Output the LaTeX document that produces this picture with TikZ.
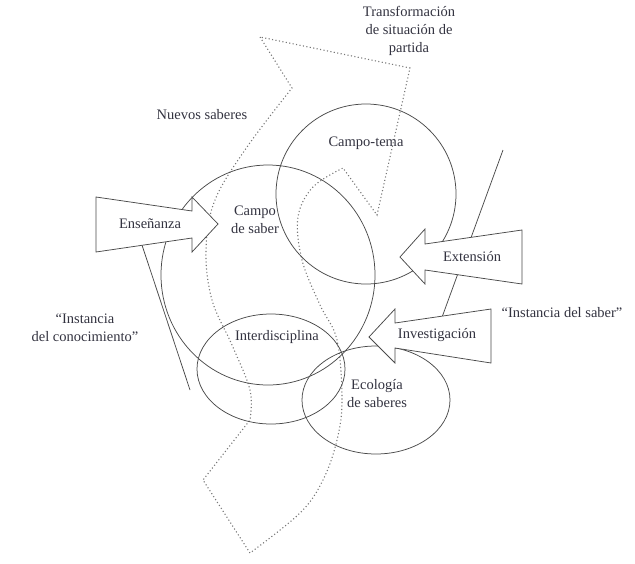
\documentclass[tikz,border=0pt]{standalone}
\usepackage{fontspec}
\setmainfont{Liberation Serif}
\usepackage{tikz}
\usetikzlibrary{calc, positioning}
\definecolor{linegray}{HTML}{4A4A4A}
\definecolor{dotgray}{HTML}{777777}
\definecolor{textgray}{HTML}{333340}
\tikzset{
    auto, node distance = 1.1 cm and 1.1 cm,
}

\begin{document}
\begin{tikzpicture}[x=1pt, y=-1pt,
        lbl/.style={text=textgray, font=\fontsize{14.5}{18}\selectfont, align=center, inner sep=0pt},
        ring/.style={draw=linegray, line width=0.75pt},
        blockarrow/.style={draw=linegray, line width=0.75pt, fill=white, line join=miter},
        dotline/.style={draw=dotgray, line width=1.1pt, dash pattern=on 1.1pt off 2.4pt}]
    \useasboundingbox (0,0) rectangle (635,563);

    % zona de nuevos saberes
    \draw[dotline] (260,37) -- plot[smooth, tension=0.6] coordinates {(292,88) (247,147) (215,200) (206,250) (212,300) (232,345) (250,390) (250,420)}
        -- (203,480)
        -- plot[smooth, tension=0.6] coordinates {(250,553) (300,513) (323,480) (337,440) (342,400) (337,340) (320,305) (302,260) (298,217) (313,187) (343,168)}
        -- (377,215) -- (410,68) -- cycle;

    % campos
    \draw[ring] (268,275) ellipse [x radius=107pt, y radius=110pt];
    \draw[ring] (366,194) circle [radius=90pt];
    \draw[ring] (271,369) ellipse [x radius=74pt, y radius=55pt];
    \draw[ring] (376,400) ellipse [x radius=74pt, y radius=54pt];

    % instancias
    \coordinate (conA) at (139,236);
    \coordinate (conB) at (190,390);
    \coordinate (sabA) at (503,150);
    \coordinate (sabB) at (441,320);
    \draw[ring] (conA) -- (conB);
    \draw[ring] (sabA) -- (sabB);

    % flechas
    \draw[blockarrow] (96,197) -- (192,211) -- (192,197) -- (218,224) -- (192,252) -- (192,238) -- (96,252) -- cycle;
    \draw[blockarrow] (522,230) -- (425,244) -- (425,229) -- (400,257) -- (425,284) -- (425,270) -- (522,284) -- cycle;
    \draw[blockarrow] (491,309) -- (395,323) -- (395,309) -- (369,337) -- (395,363) -- (395,348) -- (491,363) -- cycle;

    % textos
    \node[lbl] (ense) at (150,224) {Enseñanza};
    \node[lbl] (ext) at (472,257) {Extensión};
    \node[lbl] (inv) at (437,335) {Investigación};
    \node[lbl] (ctema) at (366,143) {Campo-tema};
    \node[lbl] (csaber) at (255,220) {Campo\\de saber};
    \node[lbl] (inter) at (277,337) {Interdisciplina};
    \node[lbl] (eco) at (377,394) {Ecología\\de saberes};
    \node[lbl] (transf) at (409,31) {Transformación\\de situación de\\partida};
    \node[lbl] (nuevos) at (202,115) {Nuevos saberes};
    \node[lbl] (inscon) at (85,328) {“Instancia\\del conocimiento”};
    \node[lbl] (inssab) at (562,313) {“Instancia del saber”};
\end{tikzpicture}
\end{document}
